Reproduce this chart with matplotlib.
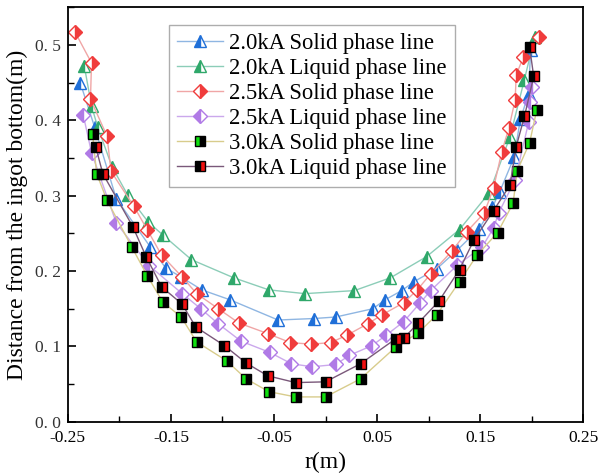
import numpy as np
import matplotlib
matplotlib.use('Agg')
import matplotlib.pyplot as plt
from matplotlib.ticker import MultipleLocator, FuncFormatter

plt.rcParams['font.family'] = ['Liberation Serif', 'DejaVu Serif']

# 2.0kA
r_20s = [-0.238, -0.224, -0.203, -0.170, -0.155, -0.140, -0.120, -0.093, -0.046, -0.011,
         0.010, 0.046, 0.058, 0.074, 0.086, 0.108, 0.128, 0.149, 0.162, 0.169,
         0.183, 0.189, 0.197, 0.199]
h_20s = [0.450, 0.391, 0.296, 0.232, 0.204, 0.192, 0.175, 0.162, 0.135, 0.137,
         0.139, 0.150, 0.162, 0.174, 0.186, 0.203, 0.228, 0.256, 0.285, 0.305,
         0.351, 0.401, 0.435, 0.493]
r_20l = [-0.234, -0.227, -0.221, -0.207, -0.192, -0.172, -0.158, -0.130, -0.089, -0.055,
         -0.020, 0.028, 0.063, 0.098, 0.130, 0.159, 0.179, 0.193, 0.203]
h_20l = [0.472, 0.419, 0.391, 0.338, 0.301, 0.265, 0.248, 0.215, 0.191, 0.175,
         0.170, 0.174, 0.191, 0.219, 0.255, 0.304, 0.378, 0.454, 0.511]
# 2.5kA
r_25s = [-0.243, -0.227, -0.228, -0.212, -0.208, -0.186, -0.173, -0.159, -0.139, -0.125,
         -0.104, -0.084, -0.056, -0.034, -0.014, 0.005, 0.021, 0.041, 0.055, 0.076,
         0.089, 0.102, 0.123, 0.137, 0.154, 0.163, 0.171, 0.178, 0.184, 0.185,
         0.192, 0.207]
h_25s = [0.517, 0.476, 0.428, 0.379, 0.332, 0.286, 0.255, 0.221, 0.192, 0.170,
         0.150, 0.131, 0.117, 0.105, 0.103, 0.105, 0.115, 0.130, 0.142, 0.158,
         0.175, 0.196, 0.227, 0.252, 0.277, 0.310, 0.358, 0.390, 0.427, 0.460,
         0.484, 0.511]
r_25l = [-0.235, -0.227, -0.203, -0.171, -0.139, -0.121, -0.104, -0.082, -0.054, -0.033,
         -0.013, 0.010, 0.023, 0.045, 0.059, 0.076, 0.092, 0.102, 0.128, 0.152,
         0.163, 0.168, 0.184, 0.197, 0.198, 0.200]
h_25l = [0.407, 0.357, 0.264, 0.207, 0.170, 0.150, 0.130, 0.107, 0.092, 0.077,
         0.073, 0.076, 0.088, 0.101, 0.115, 0.133, 0.158, 0.174, 0.208, 0.232,
         0.257, 0.277, 0.321, 0.397, 0.424, 0.444]
# 3.0kA
r_30s = [-0.226, -0.222, -0.212, -0.188, -0.173, -0.158, -0.140, -0.125, -0.096, -0.077,
         -0.055, -0.029, 0.000, 0.034, 0.068, 0.090, 0.108, 0.130, 0.147, 0.167,
         0.182, 0.186, 0.198, 0.205]
h_30s = [0.382, 0.329, 0.294, 0.232, 0.194, 0.159, 0.139, 0.106, 0.081, 0.057,
         0.040, 0.033, 0.033, 0.057, 0.099, 0.118, 0.142, 0.186, 0.221, 0.251,
         0.290, 0.333, 0.370, 0.414]
r_30l = [-0.223, -0.216, -0.187, -0.174, -0.159, -0.139, -0.126, -0.098, -0.077, -0.056,
         -0.029, 0.000, 0.034, 0.068, 0.076, 0.090, 0.110, 0.130, 0.144, 0.163,
         0.179, 0.185, 0.193, 0.202, 0.198]
h_30l = [0.365, 0.329, 0.259, 0.219, 0.179, 0.156, 0.126, 0.101, 0.078, 0.061,
         0.052, 0.053, 0.077, 0.110, 0.111, 0.131, 0.160, 0.202, 0.241, 0.280,
         0.314, 0.365, 0.405, 0.458, 0.497]

labels = ['2.0kA Solid phase line', '2.0kA Liquid phase line',
          '2.5kA Solid phase line', '2.5kA Liquid phase line',
          '3.0kA Solid phase line', '3.0kA Liquid phase line']

# (x, y, marker, fillstyle, face, alt face, edge, line colour)
series = [
    (r_20s, h_20s, '^', 'left', '#1f6fd8', 'white', '#1f6fd8', '#8fb6e2'),
    (r_20l, h_20l, '^', 'left', '#2fa86a', 'white', '#2fa86a', '#8ccdb8'),
    (r_25s, h_25s, 'D', 'right', '#f03c3c', 'white', '#f03c3c', '#f0a6a6'),
    (r_25l, h_25l, 'D', 'left', '#b07ae6', 'white', '#b07ae6', '#cba8ec'),
    (r_30s, h_30s, 's', 'left', '#10e010', 'black', 'black', '#d8cc8c'),
    (r_30l, h_30l, 's', 'left', 'black', '#f01010', 'black', '#7a587a'),
]

fig = plt.figure(figsize=(6, 4.75), dpi=100)
ax = fig.add_axes([0.113, 0.112, 0.859, 0.873])

for (x, y, m, fs, fc, fca, ec, lc), lab in zip(series, labels):
    ms = 8 if m == '^' else (7 if m == 'D' else 6.5)
    ax.plot(x, y, color=lc, lw=1.0, marker=m, markersize=ms, fillstyle=fs,
            markerfacecolor=fc, markerfacecoloralt=fca, markeredgecolor=ec,
            markeredgewidth=1.0, label=lab)

ax.set_xlim(-0.25, 0.25)
ax.set_ylim(0, 0.55)
ax.set_xticks([-0.25, -0.15, -0.05, 0.05, 0.15, 0.25])
ax.set_xticklabels(['-0.25', '-0.15', '-0.05', '0.05', '0.15', '0.25'])
ax.set_xticks([-0.2, -0.1, 0.0, 0.1, 0.2], minor=True)
ax.yaxis.set_major_locator(MultipleLocator(0.1))
ax.yaxis.set_minor_locator(MultipleLocator(0.05))
ax.yaxis.set_major_formatter(FuncFormatter(lambda v, p: ('%.1f' % v).replace('.', '. ')))
ax.tick_params(which='both', direction='in', top=False, right=False, labelsize=12.5)
ax.tick_params(axis='y', labelcolor='#333333', pad=5)
ax.tick_params(axis='x', pad=6)
ax.tick_params(which='major', length=6, width=1.2)
ax.tick_params(which='minor', length=4, width=1.0)
for s in ax.spines.values():
    s.set_linewidth(1.3)

ax.set_xlabel('r(m)', fontsize=17, labelpad=4)
ax.set_ylabel('Distance from the ingot bottom(m)', fontsize=17, labelpad=5)

leg = ax.legend(loc='upper left', bbox_to_anchor=(0.197, 0.957), borderaxespad=0,
                fontsize=16.3, frameon=True, fancybox=False, edgecolor='#999999',
                handlelength=2.0, handletextpad=0.3, borderpad=0.35, labelspacing=0.18)
leg.get_frame().set_linewidth(1.0)

fig.savefig('out.png', dpi=100)
